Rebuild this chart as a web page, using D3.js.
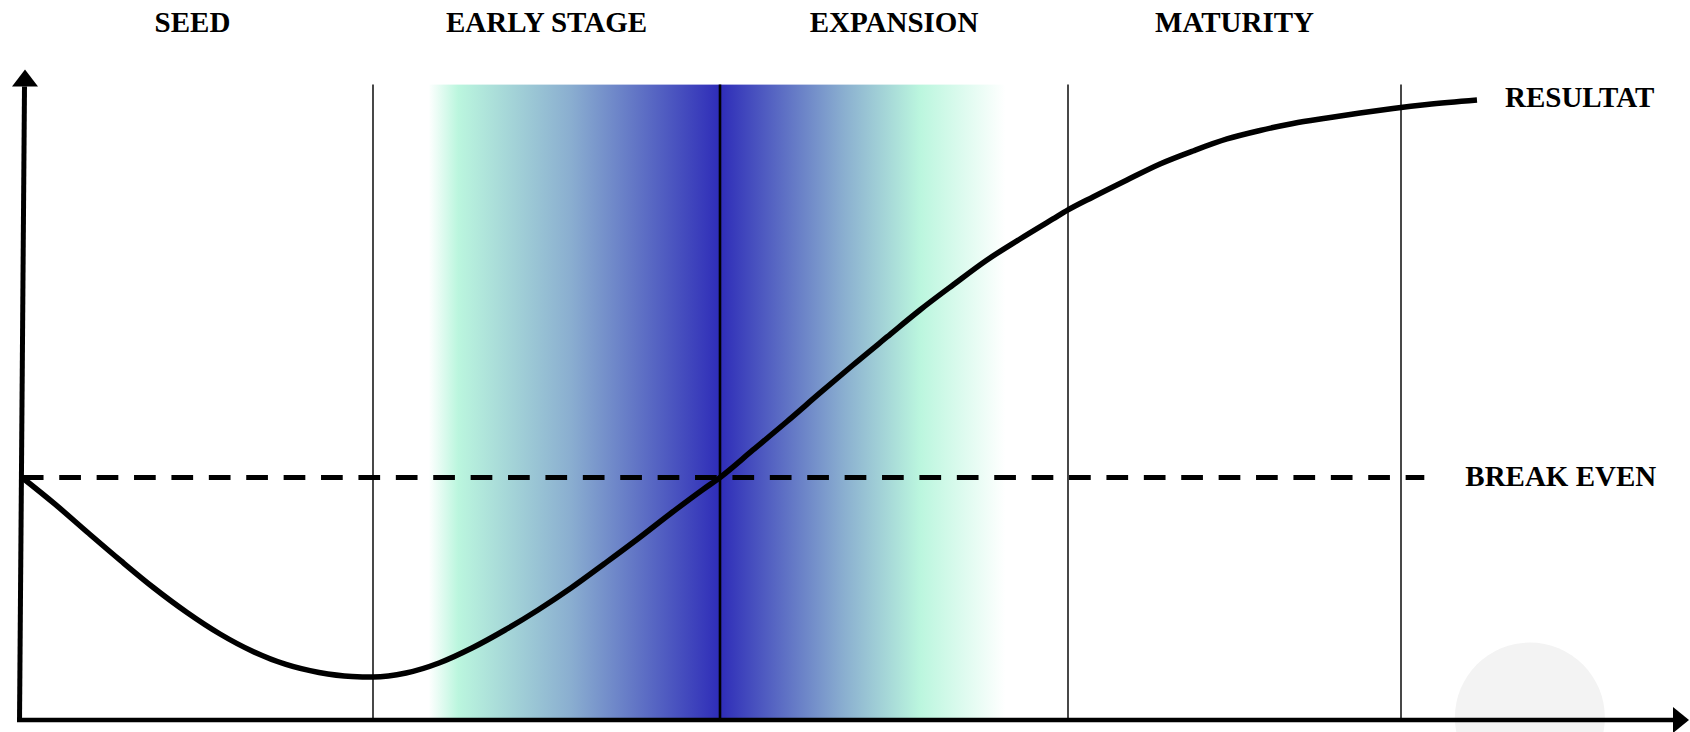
<!DOCTYPE html>
<html>
<head>
<meta charset="utf-8">
<script src="https://cdn.jsdelivr.net/npm/d3@7"></script>
<style>
  html, body { margin: 0; padding: 0; background: #fff; }
  svg { display: block; }
</style>
</head>
<body>
<svg id="chart" width="1690" height="732"></svg>
<script>
// Lifecycle stages along the horizontal axis (one unit per stage)
const stages = ["SEED", "EARLY STAGE", "EXPANSION", "MATURITY"];
const stageLabelAt = [0.49, 1.5, 2.5, 3.5];
const stageBounds = [1, 2, 3, 4];

// Result curve: position along the lifecycle vs. result (0 = break even)
const curvePhase = [0.0085, 0.1017, 0.1949, 0.2881, 0.3814, 0.4746, 0.5678, 0.661, 0.7542, 0.8475, 0.9407, 1.0,
  1.0951, 1.1902, 1.2853, 1.3804, 1.4755, 1.5706, 1.6657, 1.7608, 1.8559, 1.951, 2.0,
  2.0948, 2.1925, 2.2874, 2.3822, 2.4799, 2.5747, 2.6695, 2.7672, 2.8621, 2.9569, 3.0,
  3.0751, 3.1772, 3.2763, 3.3754, 3.4775, 3.5766, 3.6757, 3.7778, 3.8769, 3.976, 4.0781, 4.2282];
const curveValue = [0, -11.0, -22.8, -34.4, -45.57, -55.67, -64.54, -71.75, -77.11, -80.41, -82.06, -82.27,
  -80.62, -76.49, -70.31, -62.89, -54.64, -45.57, -35.67, -25.57, -15.05, -4.95, 0,
  11.34, 23.09, 34.85, 46.39, 57.94, 69.07, 79.38, 89.69, 98.35, 106.6, 110.31,
  115.67, 122.68, 129.28, 134.64, 139.59, 143.09, 145.98, 148.25, 150.31, 152.16, 153.81, 155.67];

const breakEvenValue = 0;
const breakEvenEnd = 4.07;
const seriesLabel = "RESULTAT";
const breakEvenLabel = "BREAK EVEN";

// Highlighted band around the early stage / expansion transition
const bandPhase = [1.16, 1.245, 1.57, 2.0, 2.36, 2.575, 2.82];
const bandColor = ["#ffffff", "#bbf6de", "#8aaed0", "#2e2cb8", "#8bb0d0", "#bbf6de", "#ffffff"];

const W = 1690, H = 732;
const svg = d3.select("#chart");

// Piecewise scale: each stage boundary maps onto its vertical divider
const x = d3.scaleLinear()
  .domain([0, 1, 2, 3, 4])
  .range([19, 373, 720, 1068, 1401]);
const y = d3.scaleLinear()
  .domain([-100, 162])
  .range([720, 84.6]);

const font = "'Liberation Serif', 'Times New Roman', serif";

// Soft grey disc in the lower right corner
svg.append("circle")
  .attr("cx", x(4.387))
  .attr("cy", y(-99))
  .attr("r", 75)
  .attr("fill", "#f3f3f3");

// Gradient band
const defs = svg.append("defs");
const bx0 = x(bandPhase[0]), bx1 = x(bandPhase[bandPhase.length - 1]);
const grad = defs.append("linearGradient")
  .attr("id", "band")
  .attr("gradientUnits", "userSpaceOnUse")
  .attr("x1", bx0).attr("x2", bx1)
  .attr("y1", 0).attr("y2", 0);
bandPhase.forEach((p, i) => {
  grad.append("stop")
    .attr("offset", (x(p) - bx0) / (bx1 - bx0))
    .attr("stop-color", bandColor[i]);
});
svg.append("rect")
  .attr("x", bx0)
  .attr("y", y(162))
  .attr("width", bx1 - bx0)
  .attr("height", y(-100) - y(162))
  .attr("fill", "url(#band)");

// Stage dividers
svg.append("g")
  .selectAll("line")
  .data(stageBounds)
  .join("line")
  .attr("x1", d => x(d)).attr("x2", d => x(d))
  .attr("y1", y(162)).attr("y2", y(-100))
  .attr("stroke", d => d === 2 ? "#000" : "#1a1a1a")
  .attr("stroke-width", d => d === 2 ? 2.6 : 1.6);

// Break-even line
svg.append("line")
  .attr("x1", x(0.008)).attr("x2", x(breakEvenEnd))
  .attr("y1", y(breakEvenValue)).attr("y2", y(breakEvenValue))
  .attr("stroke", "#000")
  .attr("stroke-width", 5)
  .attr("stroke-dasharray", "21.7 15.7");

// Axes with arrow heads
const axisBottom = y(-100);
const yTop = y(162);
svg.append("line")
  .attr("x1", x(0) + 0.5).attr("y1", axisBottom + 2)
  .attr("x2", x(0) + 5.5).attr("y2", yTop + 2)
  .attr("stroke", "#000").attr("stroke-width", 5);
svg.append("path")
  .attr("d", `M${x(0) + 6},${yTop - 15} L${x(0) + 19},${yTop + 2} L${x(0) - 7},${yTop + 2} Z`)
  .attr("fill", "#000");

svg.append("line")
  .attr("x1", x(0) - 2).attr("y1", axisBottom)
  .attr("x2", W - 15).attr("y2", axisBottom)
  .attr("stroke", "#000").attr("stroke-width", 4.5);
svg.append("path")
  .attr("d", `M${W - 1},${axisBottom} L${W - 17},${axisBottom - 13} L${W - 17},${axisBottom + 13} Z`)
  .attr("fill", "#000");

// Result curve
const pts = curvePhase.map((p, i) => [p, curveValue[i]]);
svg.append("path")
  .datum(pts)
  .attr("fill", "none")
  .attr("stroke", "#000")
  .attr("stroke-width", 5.5)
  .attr("stroke-linecap", "butt")
  .attr("stroke-linejoin", "round")
  .attr("d", d3.line()
    .x(d => x(d[0]))
    .y(d => y(d[1]))
    .curve(d3.curveMonotoneX));

// Stage titles
svg.append("g")
  .selectAll("text")
  .data(stages)
  .join("text")
  .attr("x", (d, i) => x(stageLabelAt[i]))
  .attr("y", 32)
  .attr("text-anchor", "middle")
  .attr("font-family", font)
  .attr("font-weight", "bold")
  .attr("font-size", 29)
  .attr("fill", "#000")
  .text(d => d);

// Line labels
const last = pts[pts.length - 1];
svg.append("text")
  .attr("x", x(last[0]) + 28)
  .attr("y", y(last[1]) + 7.5)
  .attr("font-family", font)
  .attr("font-weight", "bold")
  .attr("font-size", 29)
  .attr("fill", "#000")
  .text(seriesLabel);

svg.append("text")
  .attr("x", x(breakEvenEnd) + 41)
  .attr("y", y(breakEvenValue) + 8.5)
  .attr("font-family", font)
  .attr("font-weight", "bold")
  .attr("font-size", 29)
  .attr("fill", "#000")
  .text(breakEvenLabel);
</script>
</body>
</html>
